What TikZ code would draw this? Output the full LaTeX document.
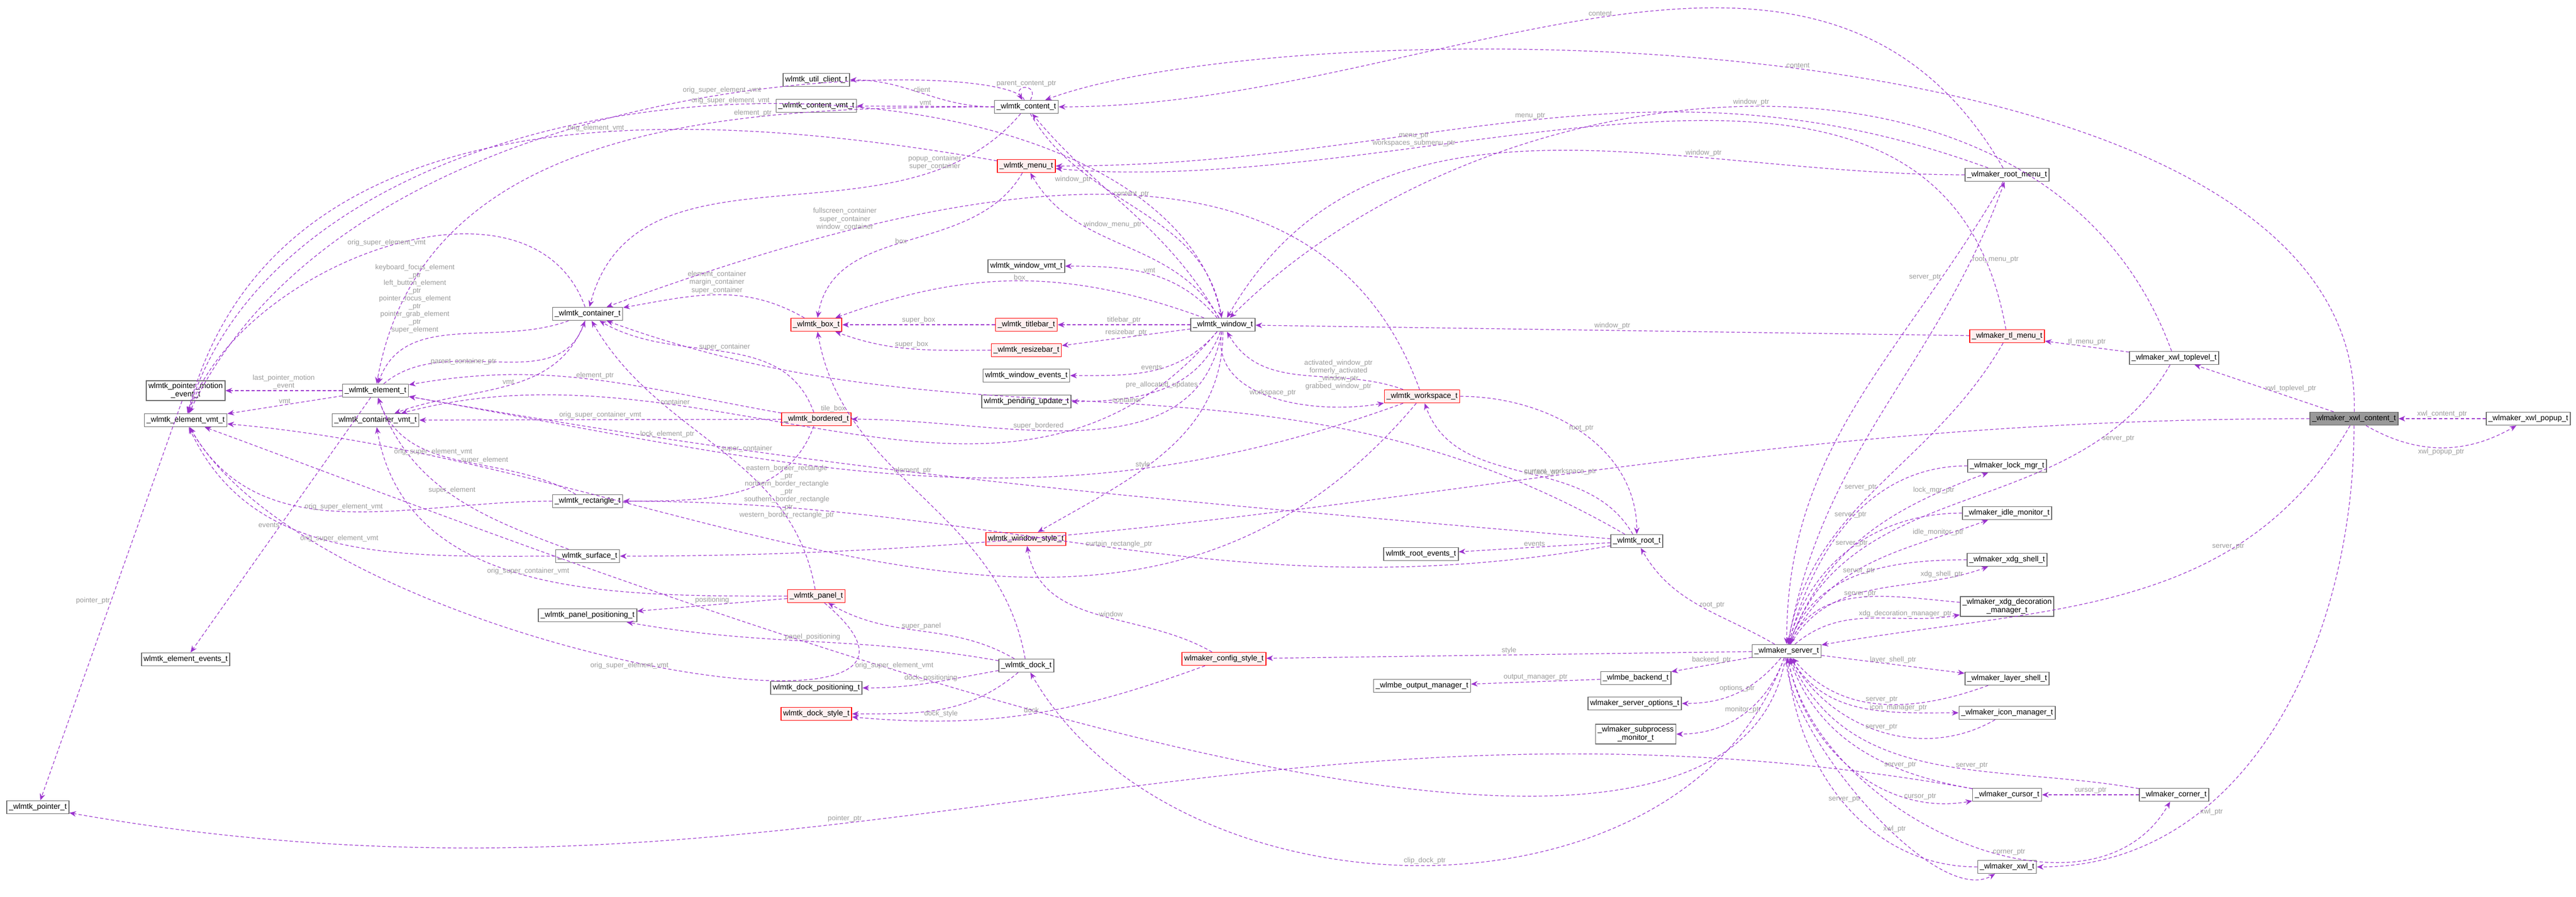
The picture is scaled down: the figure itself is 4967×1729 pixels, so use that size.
\documentclass[tikz,border=0pt]{standalone}
\usepackage{fontspec}
\setmainfont{Liberation Sans}
\usetikzlibrary{arrows.meta}
\definecolor{EdgePurple}{HTML}{9A32CD}
\definecolor{LabelGray}{HTML}{9A9A9A}
\definecolor{BoxGray}{HTML}{666666}
\definecolor{RootGray}{HTML}{999999}
\tikzset{
    cls/.style={rectangle, draw=BoxGray, fill=white, line width=0.14pt,
                minimum height=0.075cm, inner sep=0.36pt, align=center,
                font=\fontsize{1.26}{1.38}\selectfont},
    redcls/.style={cls, draw=red, fill=red!6},
    rootcls/.style={cls, fill=RootGray},
    mem/.style={draw=EdgePurple, line width=0.105pt, dash pattern=on 0.54pt off 0.36pt,
                -{Stealth[length=1.1pt, width=0.9pt]}},
    lbl/.style={text=LabelGray, font=\fontsize{1.17}{1.29}\selectfont, align=center,
                inner sep=0.15pt, fill=none},
}
\begin{document}
\begin{tikzpicture}[x=0.003cm, y=-0.003cm]
        \useasboundingbox (0,0) rectangle (4967,1729);
        % wlmtk element layer
        \node[cls] (motion) at (358,753) {wlmtk\_pointer\_motion\\\_event\_t};
        \node[cls] (elemvmt) at (358,810) {\_wlmtk\_element\_vmt\_t};
        \node[cls] (elemevents) at (358,1271) {wlmtk\_element\_events\_t};
        \node[cls] (pointer) at (73,1556) {\_wlmtk\_pointer\_t};
        \node[cls] (element) at (724,753) {\_wlmtk\_element\_t};
        \node[cls] (contvmt) at (724,810) {\_wlmtk\_container\_vmt\_t};
        \node[cls] (container) at (1133,605) {\_wlmtk\_container\_t};
        \node[cls] (rectangle) at (1133,966) {\_wlmtk\_rectangle\_t};
        \node[cls] (surface) at (1133,1072) {\_wlmtk\_surface\_t};
        \node[cls] (panelpos) at (1133,1186) {\_wlmtk\_panel\_positioning\_t};
        %
        \node[cls] (client) at (1574,154) {wlmtk\_util\_client\_t};
        \node[cls] (contentvmt) at (1574,204) {\_wlmtk\_content\_vmt\_t};
        \node[redcls] (box) at (1574,626) {\_wlmtk\_box\_t};
        \node[redcls] (bordered) at (1574,808) {\_wlmtk\_bordered\_t};
        \node[redcls] (panel) at (1574,1149) {\_wlmtk\_panel\_t};
        \node[cls] (dockpos) at (1574,1326) {wlmtk\_dock\_positioning\_t};
        \node[redcls] (dockstyle) at (1574,1376) {wlmtk\_dock\_style\_t};
        %
        % window column
        \node[cls] (content) at (1979,206) {\_wlmtk\_content\_t};
        \node[redcls] (menu) at (1979,320) {\_wlmtk\_menu\_t};
        \node[cls] (windowvmt) at (1979,513) {wlmtk\_window\_vmt\_t};
        \node[redcls] (titlebar) at (1979,626) {\_wlmtk\_titlebar\_t};
        \node[redcls] (resizebar) at (1979,675) {\_wlmtk\_resizebar\_t};
        \node[cls] (winevents) at (1979,724) {wlmtk\_window\_events\_t};
        \node[cls] (pending) at (1979,774) {wlmtk\_pending\_update\_t};
        \node[redcls] (winstyle) at (1978,1039) {wlmtk\_window\_style\_t};
        \node[cls] (dock) at (1979,1283) {\_wlmtk\_dock\_t};
        \node[cls] (window) at (2358,626) {\_wlmtk\_window\_t};
        \node[redcls] (configstyle) at (2360,1270) {wlmaker\_config\_style\_t};
        %
        % root and workspace
        \node[redcls] (workspace) at (2742,764) {\_wlmtk\_workspace\_t};
        \node[cls] (rootevents) at (2740,1068) {wlmtk\_root\_events\_t};
        \node[cls] (outmgr) at (2742,1322) {\_wlmbe\_output\_manager\_t};
        \node[cls] (root) at (3156,1043) {\_wlmtk\_root\_t};
        \node[cls] (backend) at (3154,1307) {\_wlmbe\_backend\_t};
        \node[cls] (options) at (3152,1356) {wlmaker\_server\_options\_t};
        \node[cls] (monitor) at (3154,1415) {\_wlmaker\_subprocess\\\_monitor\_t};
        \node[cls] (server) at (3445,1255) {\_wlmaker\_server\_t};
        %
        % wlmaker column
        \node[cls] (rootmenu) at (3870,337) {\_wlmaker\_root\_menu\_t};
        \node[redcls] (tlmenu) at (3870,648) {\_wlmaker\_tl\_menu\_t};
        \node[cls] (lockmgr) at (3870,898) {\_wlmaker\_lock\_mgr\_t};
        \node[cls] (idle) at (3870,989) {\_wlmaker\_idle\_monitor\_t};
        \node[cls] (xdgshell) at (3870,1079) {\_wlmaker\_xdg\_shell\_t};
        \node[cls] (xdgdeco) at (3870,1169) {\_wlmaker\_xdg\_decoration\\\_manager\_t};
        \node[cls] (layershell) at (3870,1308) {\_wlmaker\_layer\_shell\_t};
        \node[cls] (iconmgr) at (3870,1374) {\_wlmaker\_icon\_manager\_t};
        \node[cls] (cursor) at (3870,1532) {\_wlmaker\_cursor\_t};
        \node[cls] (xwl) at (3870,1671) {\_wlmaker\_xwl\_t};
        \node[cls] (corner) at (4192,1532) {\_wlmaker\_corner\_t};
        \node[cls] (toplevel) at (4192,690) {\_wlmaker\_xwl\_toplevel\_t};
        \node[rootcls] (xwlcontent) at (4539,807) {\_wlmaker\_xwl\_content\_t};
        \node[cls] (popup) at (4875,807) {\_wlmaker\_xwl\_popup\_t};
        %
        %
        % element layer edges
        \draw[mem] (element) -- node[lbl, above] {last\_pointer\_motion\\\_event} (motion);
        \draw[mem] (element) -- node[lbl, above] {vmt} (elemvmt);
        \draw[mem] (element) -- node[lbl, left] {events} (elemevents);
        \draw[mem] (motion) -- node[lbl, left] {pointer\_ptr} (pointer);
        \draw[mem] (container) to[out=200, in=70] node[lbl, above left] {keyboard\_focus\_element\\\_ptr\\left\_button\_element\\\_ptr\\pointer\_focus\_element\\\_ptr\\pointer\_grab\_element\\\_ptr\\super\_element} (element);
        \draw[mem] (element) to[out=40, in=250] node[lbl, left] {parent\_container\_ptr} (container);
        \draw[mem] (container) to[out=250, in=20] node[lbl, above] {vmt} (contvmt);
        \draw[mem] (container) to[out=110, in=70] node[lbl, above] {orig\_super\_element\_vmt} (elemvmt);
        \draw[mem] (box) to[out=150, in=10] node[lbl, above] {element\_container\\margin\_container\\super\_container} (container);
        \draw[mem] (bordered) to[out=110, in=-30] node[lbl, above] {super\_container} (container);
        \draw[mem] (bordered) -- node[lbl, above] {orig\_super\_container\_vmt} (contvmt);
        \draw[mem] (bordered) to[out=170, in=10] node[lbl, above] {element\_ptr} (element);
        \draw[mem] (bordered) to[out=250, in=0] node[lbl, right] {eastern\_border\_rectangle\\\_ptr\\northern\_border\_rectangle\\\_ptr\\southern\_border\_rectangle\\\_ptr\\western\_border\_rectangle\_ptr} (rectangle);
        \draw[mem] (rectangle) to[out=150, in=290] node[lbl, right] {super\_element} (element);
        \draw[mem] (rectangle) to[out=180, in=-60] node[lbl, above] {orig\_super\_element\_vmt} (elemvmt);
        \draw[mem] (surface) to[out=160, in=-70] node[lbl, above] {super\_element} (element);
        \draw[mem] (surface) to[out=180, in=-65] node[lbl, above] {orig\_super\_element\_vmt} (elemvmt);
        \draw[mem] (panel) to[out=180, in=-80] node[lbl, above] {orig\_super\_container\_vmt} (contvmt);
        \draw[mem] (panel) to[out=100, in=-60] node[lbl, right] {super\_container} (container);
        \draw[mem] (panel) -- node[lbl, above] {positioning} (panelpos);
        \draw[mem] (panel) to[out=-40, in=-60] node[lbl, below] {orig\_super\_element\_vmt} (elemvmt);
        %
        % content and menu
        \draw[mem] (content) to[out=180, in=0] node[lbl, above] {client} (client);
        \draw[mem] (content) -- node[lbl, above] {vmt} (contentvmt);
        \draw[mem] (content) to[out=60, in=120, looseness=6] node[lbl, above] {parent\_content\_ptr} (content);
        \draw[mem] (content) to[out=180, in=80] node[lbl, above, pos=0.3] {element\_ptr} (element);
        \draw[mem] (content) .. controls (1950,110) and (700,100) .. node[lbl, above, pos=0.45] {orig\_super\_element\_vmt} (elemvmt);
        \draw[mem] (content) to[out=230, in=75] node[lbl, above, pos=0.2] {popup\_container\\super\_container} (container);
        \draw[mem] (menu) to[out=170, in=75] node[lbl, above, pos=0.4] {orig\_element\_vmt} (elemvmt);
        \draw[mem] (menu) to[out=240, in=80] node[lbl, left] {box} (box);
        \draw[mem] (window) .. controls (2250,40) and (600,30) .. node[lbl, above, pos=0.5] {orig\_super\_element\_vmt} (elemvmt);
        \draw[mem] (window) to[out=120, in=-50] node[lbl, right, pos=0.6] {content\_ptr} (content);
        \draw[mem] (content) to[out=-60, in=100] node[lbl, left, pos=0.3] {window\_ptr} (window);
        \draw[mem] (window) to[out=120, in=-60] node[lbl, right, pos=0.7] {window\_menu\_ptr} (menu);
        %
        % window members
        \draw[mem] (window) to[out=130, in=0] node[lbl, above] {vmt} (windowvmt);
        \draw[mem] (window) to[out=160, in=20] node[lbl, above] {box} (box);
        \draw[mem] (window) -- node[lbl, above] {titlebar\_ptr} (titlebar);
        \draw[mem] (window) -- node[lbl, above] {resizebar\_ptr} (resizebar);
        \draw[mem] (window) to[out=230, in=0] node[lbl, above] {events} (winevents);
        \draw[mem] (window) to[out=250, in=0] node[lbl, above] {pre\_allocated\_updates} (pending);
        \draw[mem] (titlebar) -- node[lbl, above] {super\_box} (box);
        \draw[mem] (resizebar) to[out=180, in=-20] node[lbl, above] {super\_box} (box);
        \draw[mem] (window) to[out=260, in=0] node[lbl, above, pos=0.6] {super\_bordered} (bordered);
        \draw[mem] (window) to[out=270, in=30] node[lbl, above, pos=0.6] {style} (winstyle);
        \draw[mem] (window) to[out=230, in=15] node[lbl, above, pos=0.7] {container} (contvmt);
        \draw[mem] (dock) to[out=100, in=-80] node[lbl, left, pos=0.8] {tile\_box} (box);
        %
        % workspace and root
        \draw[mem] (workspace) to[out=110, in=20] node[lbl, above, pos=0.75] {fullscreen\_container\\super\_container\\window\_container} (container);
        \draw[mem] (workspace) to[out=160, in=-60] node[lbl, right] {activated\_window\_ptr\\formerly\_activated\\\_window\_ptr\\grabbed\_window\_ptr} (window);
        \draw[mem] (window) to[out=-100, in=190] node[lbl, above] {workspace\_ptr} (workspace);
        \draw[mem] (workspace) to[out=0, in=90] node[lbl, above] {root\_ptr} (root);
        \draw[mem] (root) to[out=120, in=-70] node[lbl, right] {current\_workspace\_ptr} (workspace);
        \draw[mem] (workspace) to[out=200, in=-10] node[lbl, above, pos=0.5] {element\_ptr} (element);
        \draw[mem] (root) -- node[lbl, above] {events} (rootevents);
        \draw[mem] (root) to[out=175, in=-10] node[lbl, above, pos=0.8] {lock\_element\_ptr} (element);
        \draw[mem] (root) to[out=190, in=0] node[lbl, above, pos=0.5] {curtain\_rectangle\_ptr} (rectangle);
        \draw[mem] (root) to[out=150, in=-20] node[lbl, above, pos=0.5] {container} (container);
        \draw[mem] (xwlcontent) to[out=180, in=0] node[lbl, above, pos=0.45] {surface\_ptr} (surface);
        %
        % dock and styles
        \draw[mem] (dock) to[out=150, in=-30] node[lbl, above] {super\_panel} (panel);
        \draw[mem] (dock) to[out=170, in=-10] node[lbl, above] {panel\_positioning} (panelpos);
        \draw[mem] (dock) to[out=190, in=0] node[lbl, above] {dock\_positioning} (dockpos);
        \draw[mem] (dock) to[out=220, in=0] node[lbl, below] {dock\_style} (dockstyle);
        \draw[mem] (configstyle) to[out=200, in=-5] node[lbl, above] {dock} (dockstyle);
        \draw[mem] (configstyle) to[out=150, in=-80] node[lbl, right] {window} (winstyle);
        \draw[mem] (workspace) to[out=230, in=-5] node[lbl, above, pos=0.85] {orig\_super\_element\_vmt} (elemvmt);
        %
        % server
        \draw[mem] (server) -- node[lbl, above] {style} (configstyle);
        \draw[mem] (server) to[out=150, in=-60] node[lbl, right] {root\_ptr} (root);
        \draw[mem] (server) -- node[lbl, above] {backend\_ptr} (backend);
        \draw[mem] (backend) -- node[lbl, above] {output\_manager\_ptr} (outmgr);
        \draw[mem] (server) to[out=230, in=0] node[lbl, above] {options\_ptr} (options);
        \draw[mem] (server) to[out=250, in=0] node[lbl, above] {monitor\_ptr} (monitor);
        \draw[mem] (server) to[out=250, in=-60] node[lbl, above, pos=0.5] {clip\_dock\_ptr} (dock);
        \draw[mem] (cursor) to[out=170, in=-10] node[lbl, above, pos=0.6] {pointer\_ptr} (pointer);
        \draw[mem] (server) to[out=-100, in=-20, looseness=0.6] node[lbl, above, pos=0.6] {orig\_super\_element\_vmt} (elemvmt);
        %
        % wlmaker structs
        \draw[mem] (rootmenu) to[out=120, in=0] node[lbl, above] {content} (content);
        \draw[mem] (rootmenu) to[out=160, in=0] node[lbl, above] {menu\_ptr} (menu);
        \draw[mem] (rootmenu) to[out=180, in=60] node[lbl, above, pos=0.3] {window\_ptr} (window);
        \draw[mem] (rootmenu) to[out=240, in=90] node[lbl, left, pos=0.2] {server\_ptr} (server);
        \draw[mem] (server) to[out=80, in=-110] node[lbl, right, pos=0.85] {root\_menu\_ptr} (rootmenu);
        \draw[mem] (tlmenu) to[out=100, in=-5] node[lbl, above, pos=0.7] {menu\_ptr\\workspaces\_submenu\_ptr} (menu);
        \draw[mem] (tlmenu) -- node[lbl, above] {window\_ptr} (window);
        \draw[mem] (tlmenu) to[out=240, in=80] node[lbl, left] {server\_ptr} (server);
        \draw[mem] (toplevel) -- node[lbl, above] {tl\_menu\_ptr} (tlmenu);
        \draw[mem] (toplevel) to[out=110, in=45] node[lbl, above, pos=0.5] {window\_ptr} (window);
        \draw[mem] (toplevel) to[out=240, in=70] node[lbl, right, pos=0.2] {server\_ptr} (server);
        \draw[mem] (xwlcontent) -- node[lbl, right] {xwl\_toplevel\_ptr} (toplevel);
        \draw[mem] (xwlcontent) .. controls (4560,10) and (2500,15) .. node[lbl, above, pos=0.5] {content} (content);
        \draw[mem] (popup) -- node[lbl, above] {xwl\_content\_ptr} (xwlcontent);
        \draw[mem] (xwlcontent) to[out=-30, in=-150] node[lbl, below] {xwl\_popup\_ptr} (popup);
        \draw[mem] (xwlcontent) to[out=240, in=10] node[lbl, above, pos=0.3] {server\_ptr} (server);
        \draw[mem] (xwlcontent) to[out=-90, in=0] node[lbl, right, pos=0.7] {xwl\_ptr} (xwl);
        \draw[mem] (lockmgr) to[out=180, in=75] node[lbl, above] {server\_ptr} (server);
        \draw[mem] (server) to[out=70, in=200] node[lbl, above, pos=0.8] {lock\_mgr\_ptr} (lockmgr);
        \draw[mem] (idle) to[out=180, in=75] node[lbl, above] {server\_ptr} (server);
        \draw[mem] (server) to[out=65, in=200] node[lbl, above, pos=0.8] {idle\_monitor\_ptr} (idle);
        \draw[mem] (xdgshell) to[out=180, in=70] node[lbl, above] {server\_ptr} (server);
        \draw[mem] (server) to[out=60, in=200] node[lbl, above, pos=0.8] {xdg\_shell\_ptr} (xdgshell);
        \draw[mem] (xdgdeco) to[out=175, in=65] node[lbl, above] {server\_ptr} (server);
        \draw[mem] (server) to[out=40, in=190] node[lbl, above, pos=0.7] {xdg\_decoration\_manager\_ptr} (xdgdeco);
        \draw[mem] (server) -- node[lbl, above] {layer\_shell\_ptr} (layershell);
        \draw[mem] (layershell) to[out=200, in=-50] node[lbl, above] {server\_ptr} (server);
        \draw[mem] (server) to[out=-60, in=180] node[lbl, above, pos=0.7] {icon\_manager\_ptr} (iconmgr);
        \draw[mem] (iconmgr) to[out=210, in=-60] node[lbl, above] {server\_ptr} (server);
        \draw[mem] (cursor) to[out=170, in=-70] node[lbl, above, pos=0.3] {server\_ptr} (server);
        \draw[mem] (server) to[out=-80, in=190] node[lbl, above, pos=0.8] {cursor\_ptr} (cursor);
        \draw[mem] (corner) -- node[lbl, above] {cursor\_ptr} (cursor);
        \draw[mem] (corner) to[out=170, in=-65] node[lbl, above, pos=0.4] {server\_ptr} (server);
        \draw[mem] (server) to[out=-80, in=240] node[lbl, above, pos=0.6] {corner\_ptr} (corner);
        \draw[mem] (xwl) to[out=180, in=-85] node[lbl, above] {server\_ptr} (server);
        \draw[mem] (server) to[out=-92, in=210, looseness=0.6] node[lbl, above, pos=0.6] {xwl\_ptr} (xwl);
    \end{tikzpicture}
\end{document}
